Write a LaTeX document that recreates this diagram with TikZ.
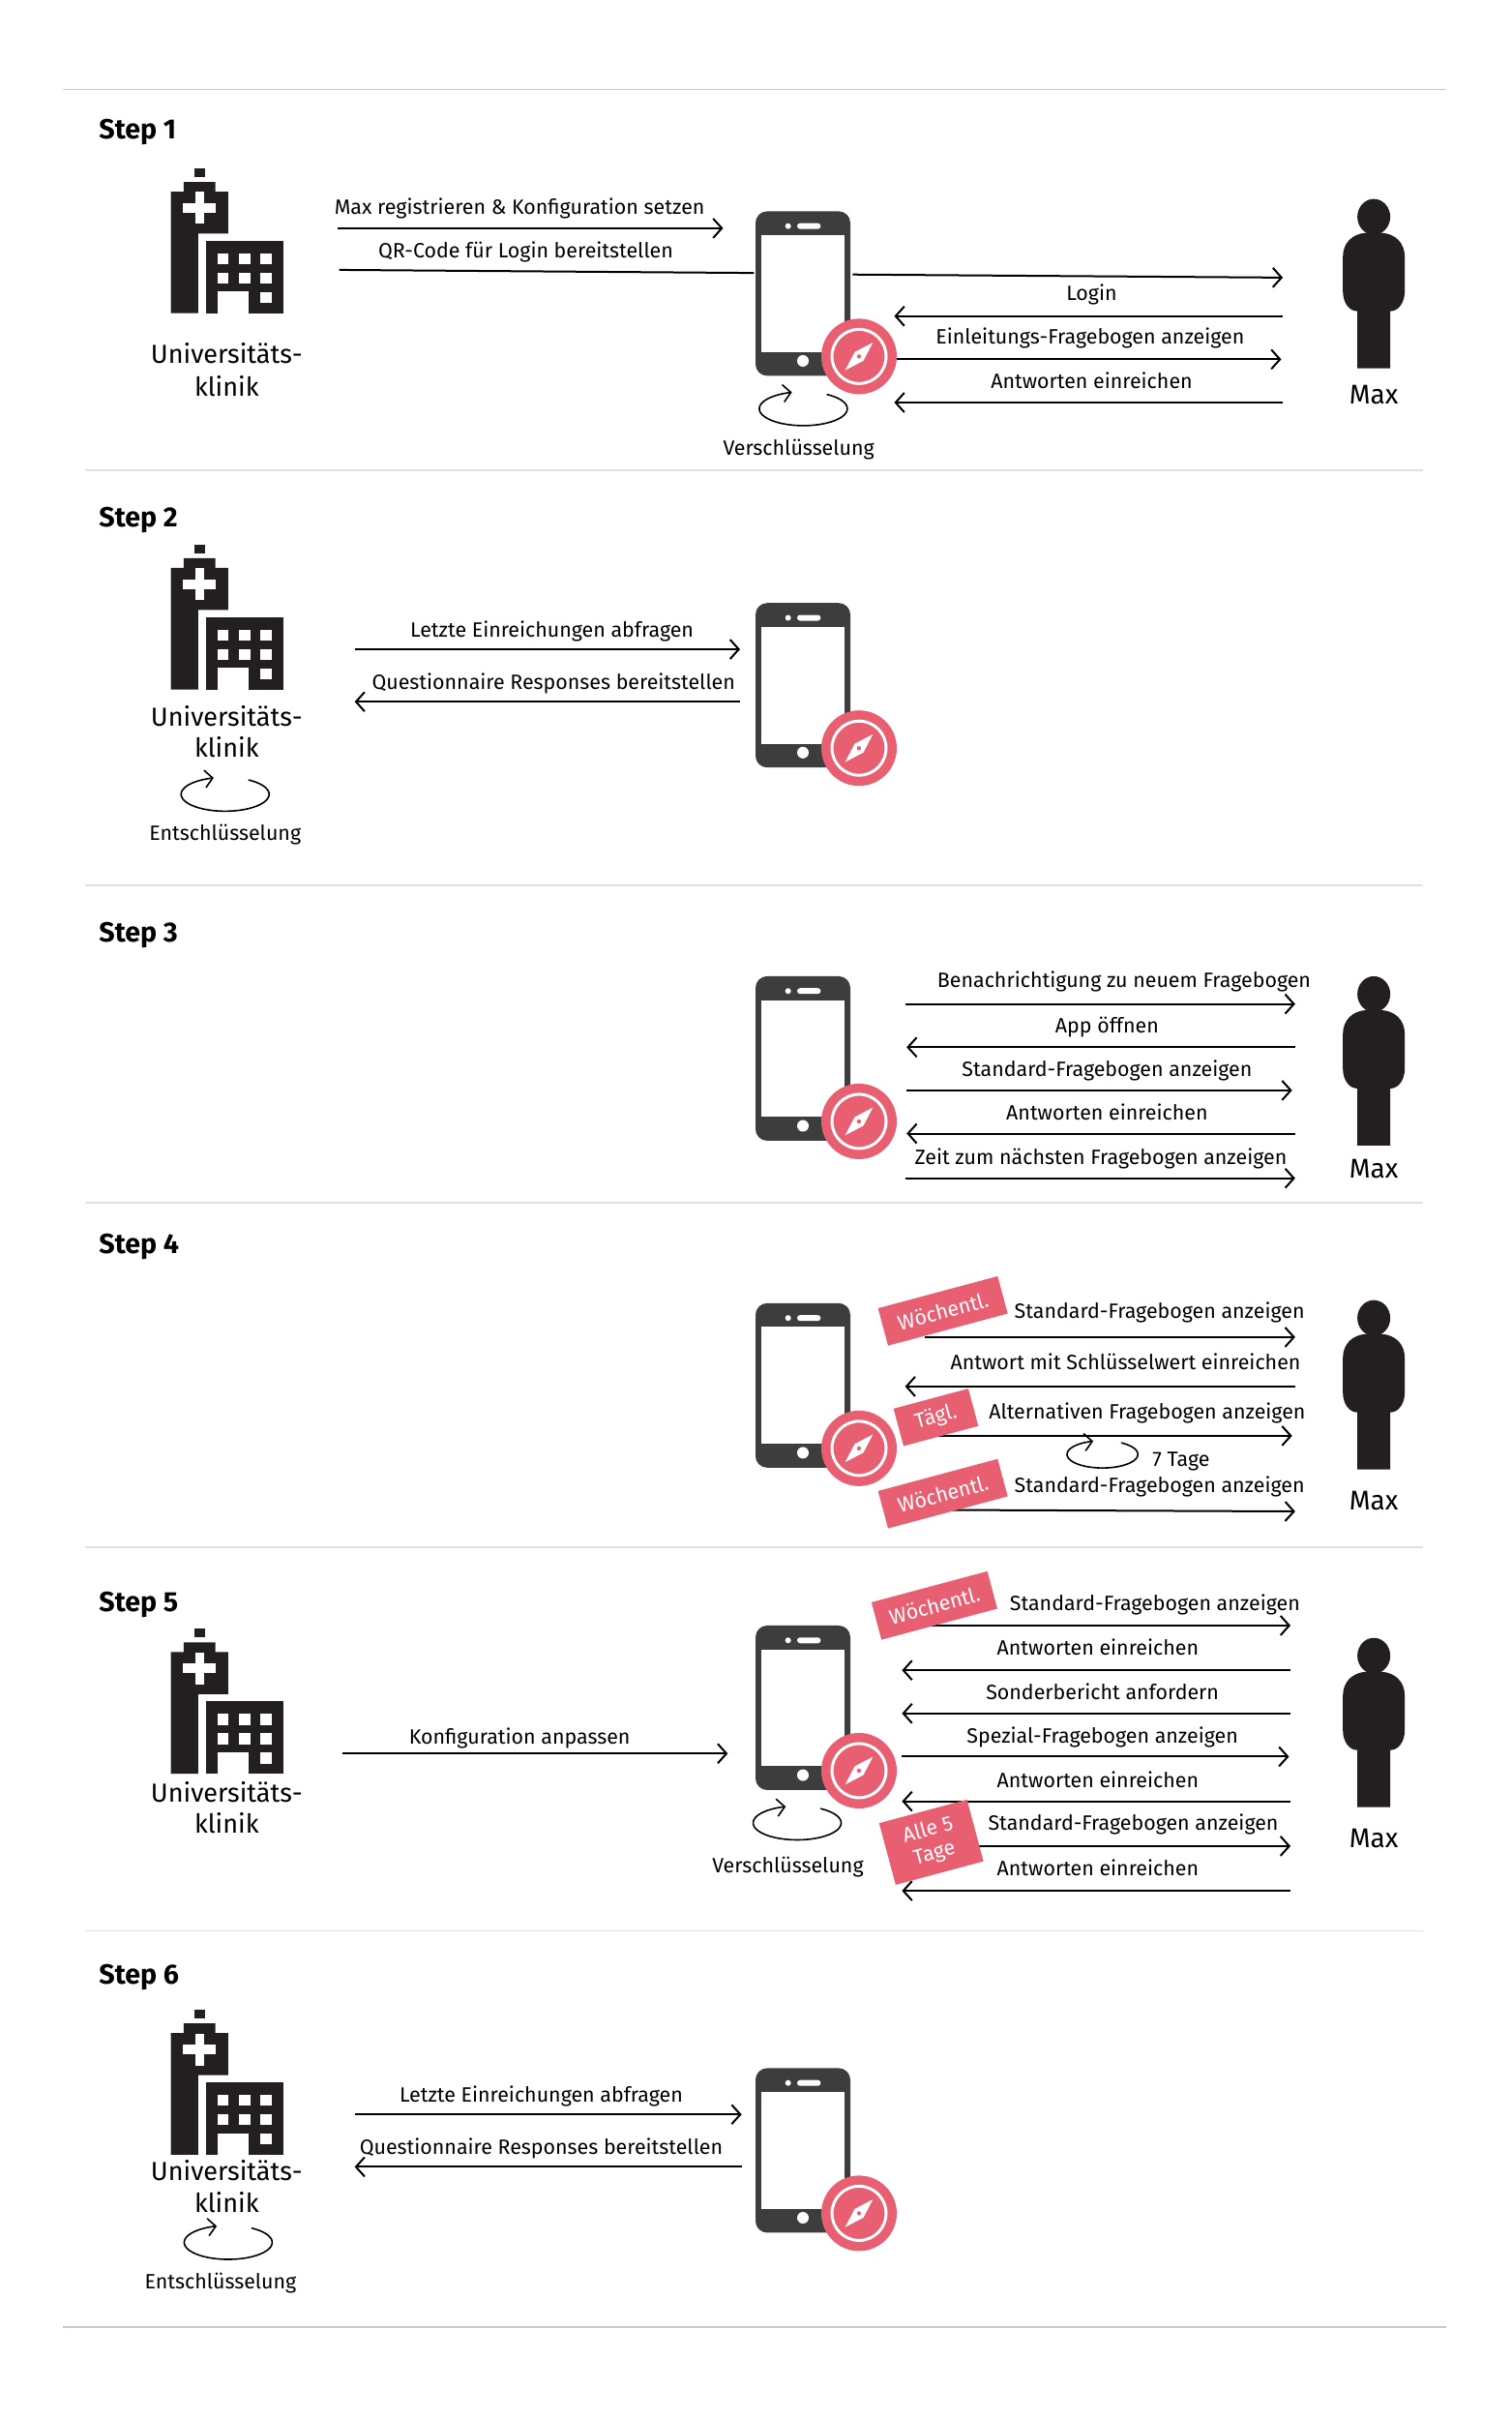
\documentclass[tikz,border=0pt]{standalone}
\usepackage{fontspec}
\setmainfont{Fira Sans}
\usetikzlibrary{arrows.meta}
\definecolor{pinkred}{HTML}{E95F72}
\definecolor{phonegray}{HTML}{3D3D3D}
\definecolor{iconblack}{HTML}{231F20}
\definecolor{rulegray}{HTML}{E0E0E0}
\definecolor{outerrule}{HTML}{C8C8C8}
\tikzset{
  lab/.style={inner sep=0pt,font=\fontsize{10.7}{12}\selectfont,text height=9pt,text depth=1pt,anchor=center},
  biglab/.style={inner sep=0pt,font=\fontsize{13.5}{15}\selectfont,text height=11pt,text depth=0.2pt,anchor=center},
  maxlab/.style={inner sep=0pt,font=\fontsize{14}{15}\selectfont,text height=10pt,text depth=0.8pt,anchor=center},
  steplab/.style={inner sep=0pt,font=\fontsize{14.3}{15}\selectfont\bfseries,text height=11pt,text depth=0.2pt,anchor=west},
  tag/.style={fill=pinkred,text=white,inner sep=0pt,rotate=15,font=\fontsize{10.7}{12.5}\selectfont,align=center,minimum height=20pt},
  flow/.style={line width=1pt,-{Straight Barb[length=4.5pt,width=10pt,line width=1pt]}},
  plainflow/.style={line width=1pt},
  rulel/.style={line width=0.9pt,rulegray},
  ruleo/.style={line width=0.7pt,outerrule},
  icon/.style={scale=0.6274},
  hospitalicon/.pic={
    \fill[iconblack] (0,0) rectangle (11.3,9.3);
    \fill[iconblack] (-24,24.3) -- (-10.7,24.3) -- (-10.7,14.3) -- (22,14.3) -- (22,24.3) -- (35.3,24.3) -- (35.3,67.7) -- (4.3,67.7) -- (4.3,150) -- (-24,150) -- cycle;
    \fill[white] (1,24.7) rectangle (10.3,57.7);
    \fill[white] (-11.4,36) rectangle (22,46);
    \fill[iconblack] (12,75) rectangle (92,150);
    \fill[white] (24.6,127.7) rectangle (56.6,150.5);
    \foreach \wx in {24,46.6,68.6} \foreach \wy in {88,108} \fill[white] (\wx,\wy) rectangle ++(11.4,11.6);
    \fill[white] (68.6,128) rectangle ++(11.4,11.4);
  },
  phoneicon/.pic={
    \fill[phonegray,rounded corners=6pt] (0,0) rectangle (98,170);
    \fill[white] (6,24.6) rectangle (92,145.3);
    \fill[white] (33.7,15.3) circle[radius=3];
    \fill[white,rounded corners=1.5pt] (43,12.3) rectangle (67.4,18.3);
    \fill[white] (49,154.6) circle[radius=6];
    \fill[pinkred] (107,150) circle[radius=39];
    \draw[white,line width=1.5pt] (107,150) circle[radius=28];
    \fill[white] (121.3,135.7) -- (111.5,154.5) -- (92.7,164.3) -- (102.5,145.5) -- cycle;
    \fill[pinkred] (107,150) circle[radius=2.2];
  },
  personicon/.pic={
    \fill[iconblack] (0,18.5) ellipse[x radius=17,y radius=18.5];
    \fill[iconblack] (-32,60) .. controls (-32,45) and (-22,36) .. (-8,35) -- (8,35) .. controls (22,36) and (32,45) .. (32,60) -- (32,95) .. controls (32,108) and (25,116) .. (17,116) -- (17,175) -- (-17,175) -- (-17,116) .. controls (-25,116) and (-32,108) .. (-32,95) -- cycle;
  },
  cycleicon/.pic={
    \draw[line width=0.8pt,-{Straight Barb[length=4pt,width=9pt,line width=0.8pt]}] plot[smooth,domain=-58:255,samples=50,variable=\t] ({45.5*cos(\t)},{17.5*sin(\t)});
  }
}
\newcommand{\flowline}[5]{\coordinate (#1-a) at (#2,#3); \coordinate (#1-b) at (#4,#5); \draw[flow] (#1-a) -- (#1-b);}
\begin{document}
\begin{tikzpicture}[x=0.797pt,y=-0.797pt]
\fill[white] (0,0) rectangle (980,1568.5);
\useasboundingbox (0,0) rectangle (980,1568.5);
% rules
\coordinate (r0a) at (41,58); \coordinate (r0b) at (938,58); \draw[ruleo] (r0a) -- (r0b);
\coordinate (r1a) at (55,305); \coordinate (r1b) at (923,305); \draw[rulel] (r1a) -- (r1b);
\coordinate (r2a) at (55,574); \coordinate (r2b) at (923,574); \draw[rulel] (r2a) -- (r2b);
\coordinate (r3a) at (55,780); \coordinate (r3b) at (923,780); \draw[rulel] (r3a) -- (r3b);
\coordinate (r4a) at (55,1003); \coordinate (r4b) at (923,1003); \draw[rulel] (r4a) -- (r4b);
\coordinate (r5a) at (55,1252); \coordinate (r5b) at (923,1252); \draw[rulel] (r5a) -- (r5b);
\coordinate (r6a) at (41,1509); \coordinate (r6b) at (938,1509); \draw[ruleo] (r6a) -- (r6b);
% step labels
\node[steplab] (st1) at (64,83) {Step 1};
\node[steplab] (st2) at (64,335) {Step 2};
\node[steplab] (st3) at (64,604) {Step 3};
\node[steplab] (st4) at (64,806) {Step 4};
\node[steplab] (st5) at (64,1038) {Step 5};
\node[steplab] (st6) at (64,1280) {Step 6};
% ---- Step 1
\pic[icon] (h1) at (125.9,109) {hospitalicon};
\node[biglab] (u1a) at (147,229) {Universitäts-};
\node[biglab] (u1b) at (147,250) {klinik};
\node[lab] (a1t1) at (337,134) {Max registrieren \& Konfiguration setzen};
\flowline{a1f1}{219}{148}{469}{148}
\node[lab] (a1t2) at (341,162) {QR-Code für Login bereitstellen};
\coordinate (a1f2-a) at (220,175); \coordinate (a1f2-b) at (489,177); \draw[plainflow] (a1f2-a) -- (a1f2-b);
\flowline{a1f3}{553}{178}{832}{180}
\node[lab] (a1t3) at (708,190) {Login};
\flowline{a1f4}{832}{205}{580}{205}
\node[lab] (a1t4) at (707,218) {Einleitungs-Fragebogen anzeigen};
\flowline{a1f5}{575}{233}{831}{233}
\node[lab] (a1t5) at (708,247) {Antworten einreichen};
\flowline{a1f6}{832}{261}{580}{261}
\pic[icon] (ph1) at (490,137) {phoneicon};
\pic[icon] (c1) at (521,265) {cycleicon};
\node[lab] (v1) at (518,290) {Verschlüsselung};
\pic[icon] (m1) at (891,129) {personicon};
\node[maxlab] (mx1) at (891,256) {Max};
% ---- Step 2
\pic[icon] (h2) at (125.9,353) {hospitalicon};
\node[biglab] (u2a) at (147,464) {Universitäts-};
\node[biglab] (u2b) at (147,484) {klinik};
\pic[icon] (c2) at (146,515) {cycleicon};
\node[lab] (e2) at (146,540) {Entschlüsselung};
\node[lab] (a2t1) at (358,408) {Letzte Einreichungen abfragen};
\flowline{a2f1}{230}{421}{480}{421}
\node[lab] (a2t2) at (359,442) {Questionnaire Responses bereitstellen};
\flowline{a2f2}{480}{455}{230}{455}
\pic[icon] (ph2) at (490,391) {phoneicon};
% ---- Step 3
\node[lab] (a3t1) at (729,635) {Benachrichtigung zu neuem Fragebogen};
\flowline{a3f1}{587}{651}{840}{651}
\node[lab] (a3t2) at (718,665) {App öffnen};
\flowline{a3f2}{840}{679}{588}{679}
\node[lab] (a3t3) at (718,693) {Standard-Fragebogen anzeigen};
\flowline{a3f3}{588}{707}{838}{707}
\node[lab] (a3t4) at (718,721) {Antworten einreichen};
\flowline{a3f4}{840}{735}{588}{735}
\node[lab] (a3t5) at (714,750) {Zeit zum nächsten Fragebogen anzeigen};
\flowline{a3f5}{587}{764}{840}{764}
\pic[icon] (ph3) at (490,633) {phoneicon};
\pic[icon] (m3) at (891,633) {personicon};
\node[maxlab] (mx3) at (891,758) {Max};
% ---- Step 4
\node[lab] (a4t1) at (752,850) {Standard-Fragebogen anzeigen};
\flowline{a4f1}{600}{867}{840}{867}
\node[lab] (a4t2) at (730,883) {Antwort mit Schlüsselwert einreichen};
\flowline{a4f2}{840}{899}{587}{899}
\node[lab] (a4t3) at (744,915) {Alternativen Fragebogen anzeigen};
\flowline{a4f3}{600}{931}{838}{931}
\pic[scale=0.505] (c4) at (715,943) {cycleicon};
\node[lab] (a4t4) at (766,946) {7 Tage};
\node[lab] (a4t5) at (752,963) {Standard-Fragebogen anzeigen};
\flowline{a4f4}{600}{979}{840}{980}
\pic[icon] (ph4) at (490,845) {phoneicon};
\node[tag,minimum width=64pt] (g4a) at (611.5,850) {Wöchentl.};
\node[tag,minimum width=40pt] (g4b) at (607,919) {Tägl.};
\node[tag,minimum width=64pt] (g4c) at (611.5,968.5) {Wöchentl.};
\pic[icon] (m4) at (891,843) {personicon};
\node[maxlab] (mx4) at (891,973) {Max};
% ---- Step 5
\pic[icon] (h5) at (125.9,1056) {hospitalicon};
\node[biglab] (u5a) at (147,1162) {Universitäts-};
\node[biglab] (u5b) at (147,1182) {klinik};
\node[lab] (a5t0) at (337,1126) {Konfiguration anpassen};
\flowline{a5f0}{222}{1137}{472}{1137}
\node[lab] (a5t1) at (749,1039) {Standard-Fragebogen anzeigen};
\flowline{a5f1}{600}{1054}{837}{1054}
\node[lab] (a5t2) at (712,1068) {Antworten einreichen};
\flowline{a5f2}{837}{1083}{585}{1083}
\node[lab] (a5t3) at (715,1097) {Sonderbericht anfordern};
\flowline{a5f3}{837}{1111}{585}{1111}
\node[lab] (a5t4) at (715,1125) {Spezial-Fragebogen anzeigen};
\flowline{a5f4}{585}{1139}{836}{1139}
\node[lab] (a5t5) at (712,1154) {Antworten einreichen};
\flowline{a5f5}{837}{1168}{585}{1168}
\node[lab] (a5t6) at (735,1182) {Standard-Fragebogen anzeigen};
\flowline{a5f6}{620}{1197}{837}{1197}
\node[lab] (a5t7) at (712,1211) {Antworten einreichen};
\flowline{a5f7}{837}{1226}{585}{1226}
\pic[icon] (ph5) at (490,1054) {phoneicon};
\pic[icon] (c5) at (517,1182) {cycleicon};
\node[lab] (v5) at (511,1209) {Verschlüsselung};
\node[tag,minimum width=62pt] (g5a) at (606,1041) {Wöchentl.};
\node[tag,minimum width=47pt,minimum height=33pt] (g5b) at (604,1194.5) {Alle 5\\Tage};
\pic[icon] (m5) at (891,1062) {personicon};
\node[maxlab] (mx5) at (891,1192) {Max};
% ---- Step 6
\pic[icon] (h6) at (125.9,1303) {hospitalicon};
\node[biglab] (u6a) at (147,1407) {Universitäts-};
\node[biglab] (u6b) at (147,1428) {klinik};
\pic[icon] (c6) at (148,1454) {cycleicon};
\node[lab] (e6) at (143,1479) {Entschlüsselung};
\node[lab] (a6t1) at (351,1358) {Letzte Einreichungen abfragen};
\flowline{a6f1}{230}{1371}{481}{1371}
\node[lab] (a6t2) at (351,1392) {Questionnaire Responses bereitstellen};
\flowline{a6f2}{481}{1405}{230}{1405}
\pic[icon] (ph6) at (490,1341) {phoneicon};
\end{tikzpicture}
\end{document}
